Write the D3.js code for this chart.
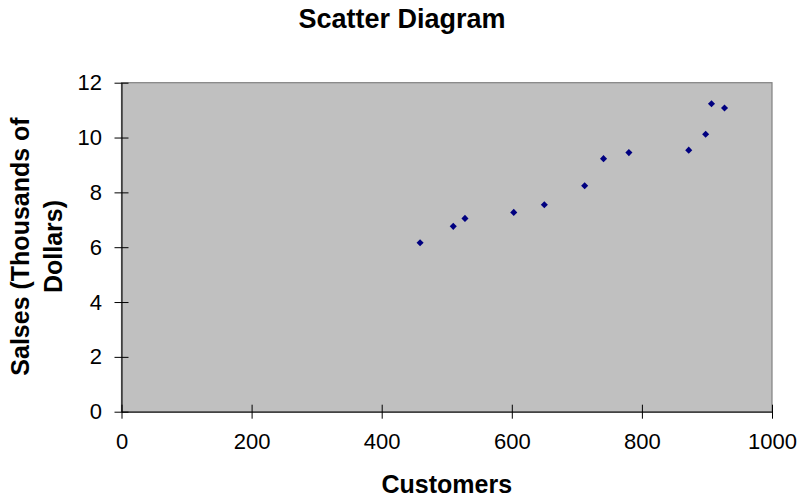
<!DOCTYPE html>
<html>
<head>
<meta charset="utf-8">
<script src="https://cdn.jsdelivr.net/npm/d3@7"></script>
<style>
  html, body { margin: 0; padding: 0; background: #fff; }
  svg { display: block; font-family: Arial, "Liberation Sans", sans-serif; }
</style>
</head>
<body>
<svg id="chart" width="800" height="499"></svg>
<script>
// Customers vs. sales observations
const customers = [459, 510, 528, 603, 650, 712, 741, 780, 872, 898, 907, 927];
const sales = [6.16, 6.76, 7.05, 7.27, 7.55, 8.24, 9.23, 9.45, 9.54, 10.12, 11.23, 11.08];
const xTicks = [0, 200, 400, 600, 800, 1000];
const yTicks = [0, 2, 4, 6, 8, 10, 12];

const svg = d3.select("#chart");
const plot = { left: 121.5, right: 772, top: 82.7, bottom: 411.7 };

const x = d3.scaleLinear().domain([0, 1000]).range([plot.left, plot.right]);
const y = d3.scaleLinear().domain([0, 12]).range([plot.bottom, plot.top]);

// Plot area
svg.append("rect")
  .attr("x", plot.left).attr("y", plot.top)
  .attr("width", plot.right - plot.left).attr("height", plot.bottom - plot.top)
  .attr("fill", "#c0c0c0").attr("stroke", "#808080").attr("stroke-width", 1.2);

// Axes with crossing tick marks
const xAxis = d3.axisBottom(x).tickValues(xTicks).tickFormat(d3.format("d"))
  .tickSize(7).tickPadding(15).tickSizeOuter(0);
const gx = svg.append("g").attr("transform", `translate(0,${plot.bottom})`).call(xAxis);
gx.selectAll(".tick line").attr("y1", -7).attr("stroke", "#000");
gx.select(".domain").attr("stroke", "#000");
gx.selectAll(".tick text").attr("font-size", 22).attr("fill", "#000").attr("font-family", "Arial, 'Liberation Sans', sans-serif");

const yAxis = d3.axisLeft(y).tickValues(yTicks).tickFormat(d3.format("d"))
  .tickSize(7).tickPadding(12.5).tickSizeOuter(0);
const gy = svg.append("g").attr("transform", `translate(${plot.left},0)`).call(yAxis);
gy.selectAll(".tick line").attr("x1", 7).attr("stroke", "#000");
gy.select(".domain").attr("stroke", "#000");
gy.selectAll(".tick text").attr("font-size", 22).attr("fill", "#000").attr("font-family", "Arial, 'Liberation Sans', sans-serif");

// Markers
const diamond = d3.symbol().type(d3.symbolDiamond2).size(32);
svg.append("g").selectAll("path")
  .data(customers.map((c, i) => ({ c, s: sales[i] })))
  .join("path")
  .attr("d", diamond)
  .attr("transform", d => `translate(${x(d.c)},${y(d.s)})`)
  .attr("fill", "#000080");

// Titles
svg.append("text")
  .attr("x", 402).attr("y", 28)
  .attr("text-anchor", "middle")
  .attr("font-size", 27).attr("font-weight", "bold")
  .text("Scatter Diagram");

svg.append("text")
  .attr("x", (plot.left + plot.right) / 2).attr("y", 493)
  .attr("text-anchor", "middle")
  .attr("font-size", 25).attr("font-weight", "bold")
  .text("Customers");

const yTitle = svg.append("text")
  .attr("transform", "rotate(-90)")
  .attr("text-anchor", "middle")
  .attr("font-size", 25).attr("font-weight", "bold");
yTitle.append("tspan").attr("x", -246.5).attr("y", 28.5).text("Salses (Thousands of");
yTitle.append("tspan").attr("x", -246.5).attr("y", 62).text("Dollars)");
</script>
</body>
</html>
